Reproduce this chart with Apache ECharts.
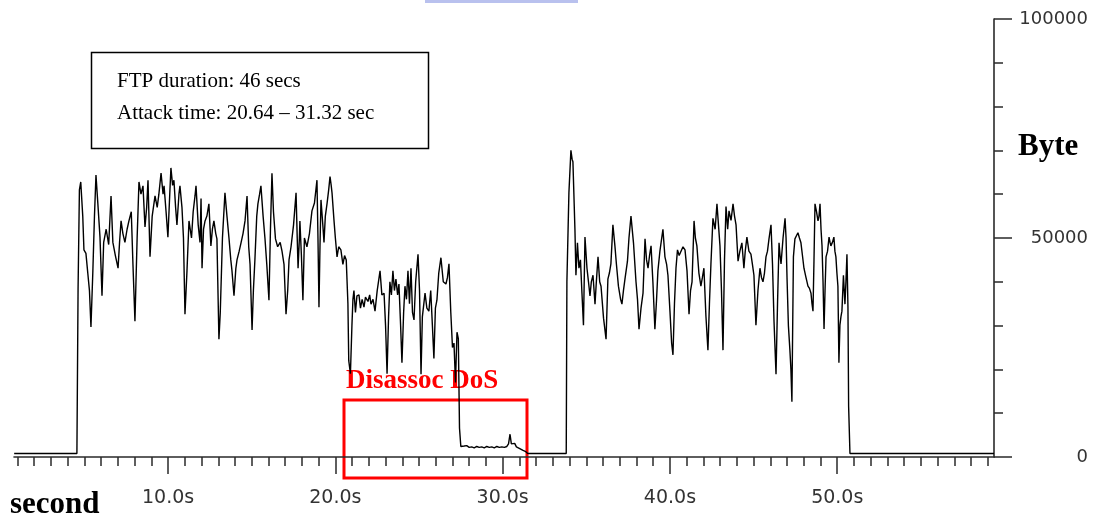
<!DOCTYPE html>
<html>
<head>
<meta charset="utf-8">
<script src="https://cdn.jsdelivr.net/npm/echarts@6/dist/echarts.min.js"></script>
<style>
html,body{margin:0;padding:0;background:#fff;}
#chart{width:1096px;height:518px;}
</style>
</head>
<body>
<div id="chart"></div>
<script>
// ---- DATA: [time in seconds, bytes] ----
const idleBefore = [[0.8,800],[4.55,800]];
const ftpBeforeAttack = [
[4.62,38400],[4.70,61000],[4.78,62800],[4.90,55000],[4.97,47300],[5.09,46500],[5.20,42000],[5.30,38000],[5.39,29700],[5.50,42000],
[5.60,55000],[5.69,64400],[5.80,58000],[5.93,50200],[6.05,36800],[6.15,49000],[6.30,52000],[6.45,48500],[6.59,59600],[6.70,49000],
[6.85,46000],[7.01,43100],[7.10,49000],[7.19,53900],[7.30,51000],[7.42,49000],[7.55,52000],[7.66,53900],[7.80,56000],[7.90,44000],
[8.02,31000],[8.15,50000],[8.26,62800],[8.38,60000],[8.50,61900],[8.62,52500],[8.72,57000],[8.80,63200],[8.92,45700],[9.05,55000],
[9.22,59600],[9.35,57000],[9.45,60000],[9.58,64800],[9.70,60000],[9.76,61900],[9.88,56000],[9.99,50200],[10.10,60000],[10.17,66000],
[10.27,62000],[10.35,63200],[10.45,57000],[10.53,53000],[10.65,60000],[10.71,61900],[10.83,57000],[10.92,50000],[11.01,32600],[11.13,42500],
[11.25,53900],[11.40,50000],[11.50,56000],[11.61,59600],[11.67,61900],[11.80,53000],[11.91,49000],[11.97,59000],[12.03,43100],[12.12,52000],
[12.21,53900],[12.32,55000],[12.44,57800],[12.56,48200],[12.65,52000],[12.74,53900],[12.85,51000],[12.92,49800],[13.04,26900],[13.12,33000],
[13.25,50000],[13.40,60300],[13.52,55000],[13.64,50000],[13.75,45000],[13.82,42500],[13.94,36800],[14.05,43000],[14.12,45000],[14.25,47000],
[14.36,48900],[14.48,51000],[14.60,53900],[14.72,59600],[14.82,48000],[14.90,44000],[15.02,29000],[15.10,38000],[15.19,45000],[15.30,55000],
[15.37,57800],[15.47,60000],[15.55,61900],[15.68,55000],[15.79,50000],[15.90,44000],[16.03,35800],[16.12,52000],[16.21,64800],[16.30,56000],
[16.42,49800],[16.55,48000],[16.70,49000],[16.81,47000],[16.93,44000],[17.05,32600],[17.15,38000],[17.23,45000],[17.35,48000],[17.50,53000],
[17.65,60300],[17.72,50000],[17.77,43100],[17.85,50000],[17.88,53900],[17.97,46000],[18.06,35800],[18.15,50000],[18.30,48000],[18.45,51000],
[18.60,56200],[18.75,58000],[18.90,63200],[18.96,50000],[19.02,34200],[19.08,48000],[19.14,58700],[19.25,53000],[19.32,49000],[19.40,55000],
[19.50,57800],[19.60,61000],[19.68,64000],[19.75,62000],[19.80,60300],[19.92,53900],[20.00,50000],[20.10,45700],[20.20,48000],[20.33,47300],
[20.45,44000],[20.55,46000],[20.65,45000],[20.75,35000]
];
const ftpDuringAttack = [
[20.80,22000],[20.90,19000],[20.99,30000],[21.05,36000],[21.11,38000],[21.20,33000],[21.29,36800],[21.41,37000],[21.50,34000],[21.60,36000],
[21.71,34200],[21.80,36500],[21.95,35500],[22.05,37000],[22.13,34900],[22.25,36000],[22.37,33300],[22.50,38000],[22.67,42500],[22.78,37000],
[22.91,37400],[23.00,30000],[23.09,19000],[23.18,32000],[23.26,40000],[23.35,37000],[23.44,42500],[23.53,38000],[23.62,40600],[23.72,37000],
[23.80,39500],[23.90,30000],[23.98,21500],[24.08,33000],[24.16,39000],[24.25,36000],[24.34,42500],[24.43,35000],[24.52,43100],[24.61,33000],
[24.70,31300],[24.80,40000],[24.94,46300],[25.03,38000],[25.12,18900],[25.20,32000],[25.36,37400],[25.47,34000],[25.59,33300],[25.70,38000],
[25.80,30000],[25.89,22500],[25.98,34000],[26.07,35800],[26.18,42000],[26.31,45500],[26.45,40000],[26.61,39500],[26.70,41000],[26.79,44100],
[26.90,33000],[27.00,25000],[27.09,26000],[27.18,17000],[27.27,28500],[27.35,27000],[27.42,6600],[27.50,2400]
];
const disassocLow = [
[27.55,2700],[27.70,2500],[27.85,2600],[28.00,2200],[28.15,2300],[28.30,2100],[28.45,2400],[28.60,2200],[28.75,2300],[28.90,2100],
[29.05,2400],[29.20,2200],[29.35,2300],[29.50,2100],[29.65,2400],[29.80,2200],[29.95,2300],[30.10,2200],[30.25,2400],[30.35,3000],
[30.44,5200],[30.52,3000],[30.62,2600],[30.72,3100],[30.82,2300],[30.92,2400],[31.02,1900],[31.12,2200],[31.22,1500],[31.35,1300],
[31.50,800]
];
const idleGap = [[33.80,800]];
const ftpAfterAttack = [
[33.84,40000],[33.96,60300],[34.08,70000],[34.15,68000],[34.20,67400],[34.32,52000],[34.38,41500],[34.47,48900],[34.56,43100],[34.65,45000],
[34.74,37400],[34.83,30100],[34.92,50200],[35.04,43100],[35.13,40000],[35.22,36800],[35.30,40000],[35.40,41500],[35.52,34900],[35.60,40000],
[35.70,45700],[35.80,40000],[35.88,39000],[36.03,31700],[36.18,26900],[36.29,40600],[36.38,42000],[36.47,44100],[36.59,53000],[36.71,48200],
[36.80,44000],[36.92,39000],[37.05,36000],[37.13,34900],[37.22,38000],[37.31,40600],[37.46,44700],[37.55,50000],[37.67,55000],[37.82,48900],
[37.97,40000],[38.06,36000],[38.15,29200],[38.27,34000],[38.39,37400],[38.51,49800],[38.60,45000],[38.69,43100],[38.78,46000],[38.87,48200],
[38.98,40000],[39.10,29200],[39.20,36000],[39.28,42500],[39.40,47000],[39.58,52000],[39.70,45700],[39.80,44000],[39.88,41500],[40.00,33300],
[40.10,26000],[40.18,23300],[40.27,35000],[40.36,43100],[40.45,47300],[40.55,46000],[40.66,45700],[40.78,48000],[40.90,47300],[41.02,42500],
[41.14,32600],[41.23,38000],[41.32,40000],[41.44,53900],[41.52,50000],[41.61,48200],[41.73,42000],[41.85,39000],[41.94,41000],[42.03,43100],
[42.15,32200],[42.27,24400],[42.36,35000],[42.45,44100],[42.57,54500],[42.70,52000],[42.81,57800],[42.90,53000],[42.99,48200],[43.08,38000],
[43.17,24400],[43.26,45000],[43.35,57200],[43.45,52000],[43.53,56200],[43.65,54000],[43.77,57800],[43.86,55000],[43.95,53000],[44.07,44700],
[44.18,47000],[44.30,48900],[44.42,43100],[44.50,47000],[44.60,50200],[44.72,47000],[44.84,46300],[44.93,44000],[45.02,41500],[45.14,30100],
[45.26,38000],[45.38,43100],[45.47,41000],[45.56,40000],[45.65,42000],[45.74,45700],[45.83,47000],[45.92,49800],[46.04,53000],[46.13,44000],
[46.22,31000],[46.34,18900],[46.43,35000],[46.52,48900],[46.58,46000],[46.64,44100],[46.76,50000],[46.88,54500],[46.94,50000],[47.00,40600],
[47.08,30000],[47.17,24400],[47.23,20000],[47.29,12600],[47.38,45700],[47.47,49800],[47.56,50500],[47.65,51200],[47.74,50000],[47.83,48900],
[47.92,46000],[48.01,43100],[48.13,41000],[48.25,39000],[48.34,38500],[48.43,37400],[48.49,35000],[48.55,33300],[48.61,45000],[48.67,57800],
[48.76,56000],[48.85,53900],[48.91,55000],[48.97,57800],[49.03,52000],[49.09,48200],[49.15,40000],[49.21,29200],[49.27,38000],[49.33,45700],
[49.42,47000],[49.51,50200],[49.57,49000],[49.62,48200],[49.71,49000],[49.80,50200],[49.86,47000],[49.92,45700],[49.98,42000],[50.04,39000],
[50.10,21500],[50.16,30100],[50.22,32000],[50.28,33300],[50.37,41500],[50.46,34900],[50.52,40000],[50.58,46300],[50.64,34200],[50.68,11600]
];
const idleAfter = [[50.76,800],[59.37,800]];

const xMin = 0.79, xMax = 59.37;
const xMinorTicks = [1,2,3,4,5,6,7,8,9,11,12,13,14,15,16,17,18,19,21,22,23,24,25,26,27,28,29,31,32,33,34,35,36,37,38,39,41,42,43,44,45,46,47,48,49,51,52,53,54,55,56,57,58,59];
const xMajorTicks = [10,20,30,40,50];
const yMax = 100000, yInterval = 50000;

const infoLines = ['FTP duration: 46 secs', 'Attack time: 20.64 \u2013 31.32 sec'];
const attackLabel = 'Disassoc DoS';
const xName = 'second', yName = 'Byte';

const series = [].concat(idleBefore, ftpBeforeAttack, ftpDuringAttack, disassocLow, idleGap, ftpAfterAttack, idleAfter);

const axisColor = '#2a2a2a';
const chart = echarts.init(document.getElementById('chart'), null, {renderer:'canvas'});
chart.setOption({
  animation: false,
  backgroundColor: '#fff',
  grid: {left: 14, right: 102, top: 19, bottom: 61, containLabel: false},
  xAxis: [{
    type: 'value', min: xMin, max: xMax,
    axisLine: {show: true, onZero: false, lineStyle: {color: axisColor, width: 1.6}},
    axisTick: {show: true, customValues: xMinorTicks, length: 9, lineStyle: {color: axisColor, width: 1.5}},
    axisLabel: {show: true, customValues: xMajorTicks, margin: 32, color: '#333',
      fontFamily: 'DejaVu Sans', fontSize: 19, lineHeight: 19,
      formatter: v => v.toFixed(1) + 's'},
    splitLine: {show: false}
  }, {
    type: 'value', min: xMin, max: xMax, position: 'bottom',
    axisLine: {show: false},
    axisTick: {show: true, customValues: xMajorTicks, length: 17, lineStyle: {color: axisColor, width: 1.5}},
    axisLabel: {show: false},
    splitLine: {show: false}
  }],
  yAxis: {
    type: 'value', position: 'right', min: 0, max: yMax, interval: yInterval,
    axisLine: {show: true, onZero: false, lineStyle: {color: axisColor, width: 1.6}},
    axisTick: {show: true, length: 18, lineStyle: {color: axisColor, width: 1.5}},
    minorTick: {show: true, splitNumber: 5, length: 9, lineStyle: {color: axisColor, width: 1.5}},
    axisLabel: {margin: 94, align: 'right', color: '#333', fontFamily: 'DejaVu Sans', fontSize: 18,
      formatter: v => String(v)},
    splitLine: {show: false}, minorSplitLine: {show: false}
  },
  series: [{
    type: 'line', data: series, xAxisIndex: 0, yAxisIndex: 0,
    showSymbol: false, symbol: 'none', smooth: false,
    lineStyle: {color: '#000', width: 1.4},
    clip: false
  }],
  graphic: [
    {type: 'rect', shape: {x: 425, y: 0, width: 153, height: 3}, style: {fill: '#b9c1ee'}, silent: true},
    {type: 'rect', shape: {x: 91.5, y: 52.5, width: 337, height: 96}, style: {fill: '#fff', stroke: '#000', lineWidth: 1.5}},
    {type: 'text', x: 117, y: 81, style: {text: infoLines[0], font: '21px "Liberation Serif"', fill: '#000', verticalAlign: 'middle'}},
    {type: 'text', x: 117, y: 113, style: {text: infoLines[1], font: '21px "Liberation Serif"', fill: '#000', verticalAlign: 'middle'}},
    {type: 'rect', shape: {x: 344, y: 400, width: 183, height: 78}, style: {fill: 'none', stroke: '#ff0000', lineWidth: 3}},
    {type: 'text', x: 346, y: 381, style: {text: attackLabel, font: 'bold 27px "Liberation Serif"', fill: '#ff0000', verticalAlign: 'middle'}},
    {type: 'text', x: 10, y: 505, style: {text: xName, font: 'bold 31px "Liberation Serif"', fill: '#000', verticalAlign: 'middle'}},
    {type: 'text', x: 1018, y: 147, style: {text: yName, font: 'bold 31px "Liberation Serif"', fill: '#000', verticalAlign: 'middle'}}
  ]
});
</script>
</body>
</html>
